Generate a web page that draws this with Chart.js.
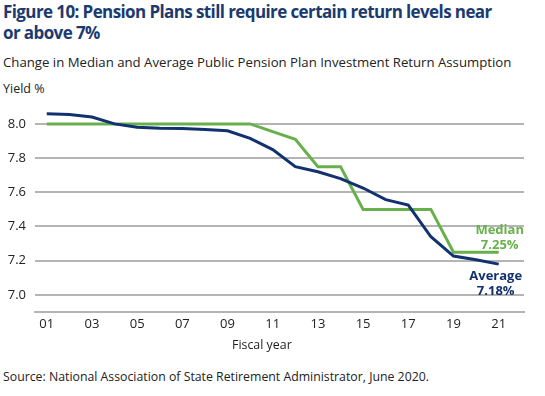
<!DOCTYPE html>
<html>
<head>
<meta charset="utf-8">
<script src="https://cdn.jsdelivr.net/npm/chart.js@4.4.0/dist/chart.umd.min.js"></script>
<style>
  body { margin: 0; background: #fff; font-family: "Open Sans", sans-serif; color: #222; }
  #wrap { position: relative; width: 545px; height: 396px; overflow: hidden; }
  .txt { position: absolute; white-space: nowrap; }
  #title { left: 3px; top: 1px; font-size: 17px; letter-spacing: -0.6px; font-weight: bold; color: #1b3a70; line-height: 21px; white-space: normal; width: 505px; }
  #sub { left: 3px; top: 53px; font-size: 13.2px; }
  #yname { left: 3px; top: 80px; font-size: 12.5px; }
  #xname { left: 232px; top: 336px; font-size: 12.4px; }
  #source { left: 3px; top: 368px; font-size: 12.3px; }
  #box { position: absolute; left: 0; top: 90px; width: 545px; height: 260px; }
</style>
</head>
<body>
<div id="wrap">
  <div id="title" class="txt">Figure 10: Pension Plans still require certain return levels near or above 7%</div>
  <div id="sub" class="txt">Change in Median and Average Public Pension Plan Investment Return Assumption</div>
  <div id="yname" class="txt">Yield %</div>
  <div id="box"><canvas id="chart"></canvas></div>
  <div id="xname" class="txt">Fiscal year</div>
  <div id="source" class="txt">Source: National Association of State Retirement Administrator, June 2020.</div>
</div>
<script>
  // fiscal years 2001-2021
  const years = [1, 2, 3, 4, 5, 6, 7, 8, 9, 10, 11, 12, 13, 14, 15, 16, 17, 18, 19, 20, 21];
  const average = [8.06, 8.055, 8.04, 8.0, 7.98, 7.975, 7.973, 7.967, 7.96, 7.915, 7.85,
                   7.75, 7.72, 7.68, 7.625, 7.557, 7.525, 7.34, 7.227, 7.205, 7.18];
  const median = [8.0, 8.0, 8.0, 8.0, 8.0, 8.0, 8.0, 8.0, 8.0, 8.0, 7.955,
                  7.91, 7.75, 7.75, 7.5, 7.5, 7.5, 7.5, 7.25, 7.25, 7.25];
  const xTicks = [1, 3, 5, 7, 9, 11, 13, 15, 17, 19, 21];
  const yTicks = [7.0, 7.2, 7.4, 7.6, 7.8, 8.0];

  const navy = '#12316f';
  const green = '#68b04c';

  // end labels next to the last point of each line
  const endLabels = {
    id: 'endLabels',
    afterDatasetsDraw(chart) {
      const ctx = chart.ctx;
      const x = chart.scales.x;
      const y = chart.scales.y;
      const last = years.length - 1;
      const px = x.getPixelForValue(years[last]);
      ctx.save();
      ctx.font = 'bold 13px "Open Sans"';
      ctx.textAlign = 'center';
      ctx.textBaseline = 'middle';
      ctx.fillStyle = green;
      let py = y.getPixelForValue(median[last]);
      ctx.fillText('Median', px + 1, py - 22);
      ctx.fillText('7.25%', px + 1, py - 7);
      ctx.fillStyle = navy;
      py = y.getPixelForValue(average[last]);
      ctx.fillText('Average', px - 3, py + 12);
      ctx.fillText('7.18%', px - 3, py + 27);
      ctx.restore();
    }
  };

  new Chart(document.getElementById('chart'), {
    type: 'line',
    data: {
      datasets: [
        {
          label: 'Average',
          data: years.map((yr, i) => ({ x: yr, y: average[i] })),
          borderColor: navy,
          borderWidth: 3,
          pointRadius: 0,
          tension: 0
        },
        {
          label: 'Median',
          data: years.map((yr, i) => ({ x: yr, y: median[i] })),
          borderColor: green,
          borderWidth: 3,
          pointRadius: 0,
          tension: 0
        }
      ]
    },
    options: {
      responsive: true,
      maintainAspectRatio: false,
      animation: false,
      layout: { padding: { top: 10, right: 21, left: 0, bottom: 0 } },
      plugins: {
        legend: { display: false },
        tooltip: { enabled: false }
      },
      scales: {
        x: {
          type: 'linear',
          min: 0.48,
          max: 22.12,
          afterBuildTicks: function (s) { s.ticks = xTicks.map(v => ({ value: v })); },
          grid: { display: false, drawTicks: false },
          border: { display: true, color: '#b4b4b4', width: 2 },
          ticks: {
            maxRotation: 0,
            padding: 4,
            color: '#222',
            font: { family: 'Open Sans', size: 13 },
            callback: function (v) { return String(v).padStart(2, '0'); }
          },
          afterFit: function (s) { s.height = 38; }
        },
        y: {
          min: 6.9,
          max: 8.1,
          afterBuildTicks: function (s) { s.ticks = yTicks.map(v => ({ value: v })); },
          grid: { color: '#b4b4b4', lineWidth: 2, drawTicks: false },
          border: { display: false },
          ticks: {
            padding: 9,
            color: '#222',
            font: { family: 'Open Sans', size: 13 },
            callback: function (v) { return v.toFixed(1); }
          },
          afterFit: function (s) { s.width = 35; }
        }
      }
    },
    plugins: [endLabels]
  });
</script>
</body>
</html>
